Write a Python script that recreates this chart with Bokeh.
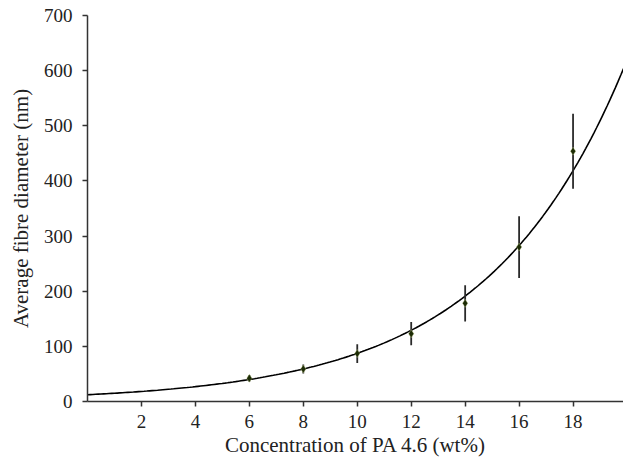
import numpy as np
from bokeh.plotting import figure
from bokeh.models import Range1d, FixedTicker
from bokeh.embed import file_html
from bokeh.resources import INLINE

# Data
concentration = [6, 8, 10, 12, 14, 16, 18]          # wt%
diameter = [42, 59, 87, 123, 178, 280, 454]         # nm
diameter_err = [6, 8, 17, 21, 33, 56, 68]           # nm (error bar half-length)
x_ticks = [2, 4, 6, 8, 10, 12, 14, 16, 18]
y_ticks = [0, 100, 200, 300, 400, 500, 600, 700]

# Exponential trendline fitted to the data (as in the original spreadsheet chart)
x_arr = np.array(concentration, dtype=float)
y_arr = np.array(diameter, dtype=float)
b_fit, ln_a_fit = np.polyfit(x_arr, np.log(y_arr), 1)
x_max = 19.87
x_fit = np.linspace(0, x_max, 200)
y_fit = np.exp(ln_a_fit) * np.exp(b_fit * x_fit)

FONT = "Liberation Serif"

p = figure(width=623, height=463, output_backend="svg", toolbar_location=None,
           x_range=Range1d(0, x_max), y_range=Range1d(0, 700),
           min_border_left=87, min_border_right=0, min_border_top=15,
           min_border_bottom=62)
p.outline_line_color = None
p.xgrid.visible = False
p.ygrid.visible = False
p.background_fill_color = "white"
p.border_fill_color = "white"

# trendline
p.line(x_fit, y_fit, line_color="black", line_width=1.6)

# error bars
lower = [v - e for v, e in zip(diameter, diameter_err)]
upper = [v + e for v, e in zip(diameter, diameter_err)]
p.segment(x0=concentration, y0=lower, x1=concentration, y1=upper,
          line_color="#2a2a2a", line_width=1.8)

# points
p.scatter(concentration, diameter, marker="diamond", size=8,
          fill_color="#1c2b05", line_color="#d8e4a0", line_width=0.6, line_alpha=0.6)

for ax in (p.xaxis[0], p.yaxis[0]):
    ax.axis_line_color = "#333333"
    ax.axis_line_width = 1.5
    ax.major_tick_line_color = "#333333"
    ax.major_tick_line_width = 1.5
    ax.major_tick_in = 0
    ax.major_tick_out = 5
    ax.minor_tick_line_color = None
    ax.major_label_text_font = FONT
    ax.major_label_text_font_size = "19px"
    ax.major_label_text_color = "#222222"
    ax.axis_label_text_font = FONT
    ax.axis_label_text_font_size = "21px"
    ax.axis_label_text_font_style = "normal"
    ax.axis_label_text_color = "#222222"

p.xaxis.ticker = FixedTicker(ticks=x_ticks)
p.yaxis.ticker = FixedTicker(ticks=y_ticks)
p.xaxis.axis_label = "Concentration of PA 4.6 (wt%)"
p.yaxis.axis_label = "Average fibre diameter (nm)"
p.xaxis.major_label_standoff = 8
p.yaxis.major_label_standoff = 10
p.xaxis.axis_label_standoff = 2
p.yaxis.axis_label_standoff = 8

open("out.html", "w").write(file_html(p, INLINE))
